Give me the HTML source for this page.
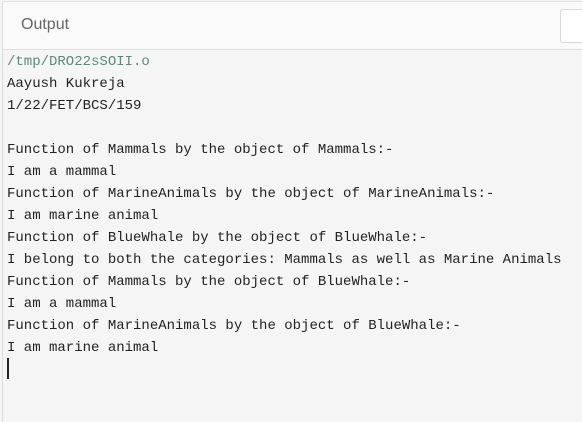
<!DOCTYPE html>
<html><head><style>
html,body{margin:0;padding:0;width:582px;height:401px;overflow:hidden;background:#f5f5f5}
.wrap{position:absolute;left:2px;top:1px;width:600px;height:420px;border-left:1px solid #ddd;border-top:1px solid #e3e3e3;background:#f5f5f5}
.hdr{position:absolute;left:0;top:0;right:0;height:47px;background:#fafafa;border-bottom:1px solid #e0e0e0}
.hdr span{position:absolute;left:18px;top:14px;font:16px "Liberation Sans",sans-serif;color:#666}
.btn{position:absolute;left:557px;top:7px;width:40px;height:32px;border:1px solid #d8d8d8;border-radius:3px;background:#fff}
.out{position:absolute;left:4px;top:49px;font:14px/22px "Liberation Mono",monospace;color:#222;white-space:pre}
.g{color:#5a8a7a}
.cur{position:absolute;left:4px;top:356px;width:1.5px;height:21px;background:#222}
</style></head><body>
<div class="wrap">
<div class="hdr"><span>Output</span><div class="btn"></div></div>
<div class="out"><span class="g">/tmp/DRO22sSOII.o</span>
Aayush Kukreja
1/22/FET/BCS/159

Function of Mammals by the object of Mammals:-
I am a mammal
Function of MarineAnimals by the object of MarineAnimals:-
I am marine animal
Function of BlueWhale by the object of BlueWhale:-
I belong to both the categories: Mammals as well as Marine Animals
Function of Mammals by the object of BlueWhale:-
I am a mammal
Function of MarineAnimals by the object of BlueWhale:-
I am marine animal</div>
<div class="cur"></div>
</div>
</body></html>
